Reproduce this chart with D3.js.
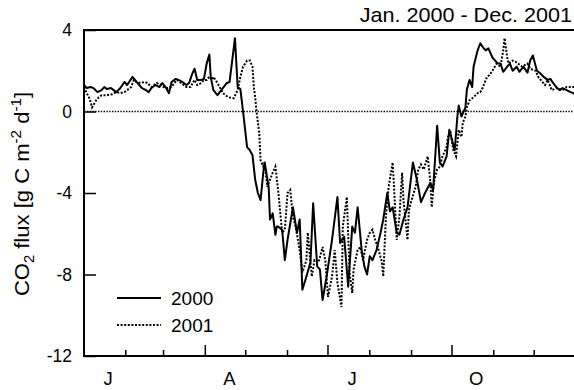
<!DOCTYPE html>
<html>
<head>
<meta charset="utf-8">
<script src="https://cdn.jsdelivr.net/npm/d3@7/dist/d3.min.js"></script>
<style>
  html, body { margin: 0; padding: 0; background: #fff; }
  svg { display: block; font-family: "Liberation Sans", Arial, Helvetica, sans-serif; }
</style>
</head>
<body>
<svg id="chart" width="574" height="390"></svg>
<script>
// Daily net CO2 flux, day of year and value (g C m-2 d-1)
const days2000 = [1,3,6,8,11,14,16,18,21,23,25,28,31,33,36,37,40,42,44,47,49,51,54,57,59,62,64,66,69,71,74,77,79,81,83,85,88,90,92,94,95,97,100,104,107,109,113,115,117,119,122,124,126,128,130,132,134,135,138,139,141,143,144,145,148,150,152,156,159,161,163,166,169,171,174,176,178,181,185,189,191,194,197,200,202,204,207,209,211,213,215,218,221,223,226,228,230,233,235,238,241,245,248,251,254,258,260,263,265,267,270,272,274,276,278,279,281,284,285,287,289,290,293,295,297,299,301,304,306,308,310,312,315,317,319,322,324,327,330,332,334,337,339,342,345,347,349,352,354,356,359,362,364,365];
const flux2000 = [1.3,1.15,1.2,1.15,0.95,1.05,1.2,1.1,1.15,1.05,0.95,1.15,1.45,1.3,1.6,1.7,1.45,1.3,1.15,1.05,0.95,1.15,1.3,1.2,1.4,1.15,0.9,1.45,1.6,1.55,1.45,1.3,1.4,1.8,2.1,1.55,1.55,1.6,2.35,2.8,1.7,1.05,0.8,1.15,1.4,1.45,3.6,1.2,1.1,0,-1.75,-1.9,-2.15,-3.35,-4.0,-4.35,-3.0,-2.5,-3.7,-5.3,-5.0,-6.05,-5.65,-5.65,-5.8,-7.3,-6.3,-4.7,-5.95,-5.3,-8.75,-8.1,-7.4,-4.5,-7.6,-7.75,-9.25,-8.1,-6.3,-4.2,-6.45,-6.15,-8.6,-5.65,-5.95,-4.7,-6.8,-7.6,-8.0,-7.1,-7.3,-6.8,-5.95,-5.3,-4.0,-4.9,-4.7,-5.95,-6.05,-5.3,-4.7,-2.5,-3.35,-4.45,-4.0,-3.5,-3.85,-0.7,-2.5,-2.7,-2.2,-0.9,-1.4,-1.9,-0.25,0.3,-0.25,0.2,1.05,1.55,1.2,2.2,3.0,3.35,3.15,3.0,3.1,2.65,2.5,2.35,2.35,1.95,2.2,2.35,2.0,2.2,1.95,2.2,1.9,2.5,2.75,2.0,1.9,1.7,1.55,1.6,1.4,1.15,1.05,1.15,1.05,0.95,0.9,0.85];

const days2001 = [1,3,5,7,10,12,14,18,22,25,28,31,33,36,38,40,43,46,48,51,53,55,58,60,63,66,68,70,73,75,77,80,83,85,88,90,92,94,96,97,100,104,108,112,115,117,119,122,124,126,127,128,129,131,132,134,135,137,139,141,143,145,148,150,152,154,156,158,161,163,166,167,170,172,175,178,180,182,185,187,189,192,193,196,198,200,201,204,206,208,211,213,215,217,219,222,223,225,227,230,231,233,235,237,238,241,242,244,247,249,251,253,256,258,259,260,261,263,265,267,270,271,273,275,277,279,281,282,284,285,287,290,293,295,297,300,302,304,307,310,312,313,315,316,319,321,323,326,330,332,336,338,341,343,345,348,352,356,359,363,365];
const flux2001 = [1.2,0.9,0.65,0.2,0.55,0.7,0.8,0.8,0.85,0.95,0.9,0.95,1.05,1.2,1.55,1.45,1.4,1.45,1.4,1.2,1.3,1.4,1.3,1.2,1.15,1.2,1.4,1.55,1.4,1.3,1.2,1.2,1.55,1.3,1.4,1.55,1.55,1.7,1.55,1.7,1.4,0.9,0.7,0.65,1.05,1.7,2.2,2.5,2.5,2.2,1.2,0.7,0,-1.05,-2.4,-2.7,-2.5,-3.7,-3.35,-3.0,-2.7,-3.85,-5.95,-5.8,-4.0,-3.85,-5.15,-5.65,-6.8,-7.9,-7.3,-5.95,-8.1,-7.3,-7.4,-6.65,-7.3,-9.1,-8.1,-6.8,-8.4,-9.6,-5.65,-4.2,-7.9,-8.9,-7.75,-6.8,-6.65,-7.3,-6.3,-5.95,-5.8,-6.3,-6.65,-7.4,-8.1,-5.15,-3.7,-2.5,-3.7,-6.3,-5.15,-3.0,-4.35,-6.3,-4.85,-4.35,-3.7,-2.85,-2.6,-2.85,-2.2,-3.5,-4.7,-3.85,-3.35,-2.85,-2.7,-2.2,-1.75,-1.25,-1.05,-1.9,-2.2,-0.9,-1.25,-0.55,-0.25,0.2,0.55,0.7,0.9,0.95,1.2,1.7,1.8,2.0,2.35,2.2,3.0,3.6,2.65,2.35,2.5,2.45,2.35,2.2,2.35,2.1,2.0,1.7,1.45,1.3,1.55,1.05,1.15,1.05,1.2,1.2,1.2];

const yTicks = [4, 0, -4, -8, -12];
const monthStarts = [1,32,60,91,121,152,182,213,244,274,305,335];
const quarterLabels = ["J", "A", "J", "O"];
const seasonLabel = "Jan. 2000 - Dec. 2001";

const svg = d3.select("#chart");
const plotLeft = 84, plotRight = 576, plotTop = 30, plotBottom = 356;

const x = d3.scaleLinear().domain([1, 366]).range([plotLeft, plotRight]);
const y = d3.scaleLinear().domain([-12, 4]).range([plotBottom, plotTop]);

// zero reference line
svg.append("line")
  .attr("x1", plotLeft).attr("x2", plotRight)
  .attr("y1", y(0)).attr("y2", y(0))
  .attr("stroke", "#000").attr("stroke-width", 1.5)
  .attr("stroke-dasharray", "1.4,1.4");

const line = d3.line().x(d => x(d[0])).y(d => y(d[1]));

const s2000 = days2000.map((d, i) => [d, flux2000[i]]);
const s2001 = days2001.map((d, i) => [d, flux2001[i]]);

svg.append("path").datum(s2001)
  .attr("d", line).attr("fill", "none")
  .attr("stroke", "#000").attr("stroke-width", 2)
  .attr("stroke-dasharray", "2,1.6");

svg.append("path").datum(s2000)
  .attr("d", line).attr("fill", "none")
  .attr("stroke", "#000").attr("stroke-width", 2)
  .attr("stroke-linejoin", "round");

// frame: left, bottom, top
const frame = svg.append("g").attr("stroke", "#000").attr("stroke-width", 2).attr("fill", "none");
frame.append("line").attr("x1", plotLeft).attr("x2", plotLeft).attr("y1", plotTop - 1).attr("y2", plotBottom + 1);
frame.append("line").attr("x1", plotLeft - 1).attr("x2", plotRight).attr("y1", plotBottom).attr("y2", plotBottom);
frame.append("line").attr("x1", plotLeft - 1).attr("x2", plotRight).attr("y1", plotTop).attr("y2", plotTop);

// y axis ticks (inward) and labels
const yAxis = d3.axisLeft(y).tickValues(yTicks).tickSize(-12).tickPadding(12)
  .tickFormat(d => String(d));
const gy = svg.append("g").attr("transform", `translate(${plotLeft},0)`).call(yAxis);
gy.select(".domain").remove();
gy.selectAll(".tick line").attr("stroke-width", 1.5);
gy.selectAll(".tick text")
  .attr("font-size", 17.5).attr("fill", "#000")
  .attr("font-family", "'Liberation Sans', Arial, sans-serif");

// x axis: monthly ticks, longer at quarter starts
const gx = svg.append("g").attr("transform", `translate(0,${plotBottom})`);
gx.selectAll("line.mt").data(monthStarts).join("line")
  .attr("class", "mt")
  .attr("x1", d => x(d)).attr("x2", d => x(d))
  .attr("y1", 0).attr("y2", (d, i) => i % 3 === 0 ? -11 : -6)
  .attr("stroke", "#000").attr("stroke-width", 1.5);

gx.selectAll("text").data(quarterLabels).join("text")
  .attr("x", (d, i) => (x(monthStarts[i * 3]) + x(monthStarts[i * 3] + 30)) / 2 + 4)
  .attr("y", 29)
  .attr("text-anchor", "middle")
  .attr("font-size", 18.5)
  .text(d => d);

// title, slightly widened lettering
svg.append("g")
  .attr("transform", "translate(572,22) scale(1.08,1)")
  .append("text")
  .attr("text-anchor", "end")
  .attr("font-size", 20)
  .text(seasonLabel);

// y axis title
const yt = svg.append("text")
  .attr("transform", `translate(29,194) rotate(-90) scale(1.05,1)`)
  .attr("text-anchor", "middle")
  .attr("font-size", 21);
yt.append("tspan").text("CO");
yt.append("tspan").attr("font-size", 14).attr("dy", 5).text("2");
yt.append("tspan").attr("dy", -5).text(" flux [g C m");
yt.append("tspan").attr("font-size", 14.5).attr("dy", -8).text("-2");
yt.append("tspan").attr("dy", 8).text(" d");
yt.append("tspan").attr("font-size", 14.5).attr("dy", -8).text("-1");
yt.append("tspan").attr("dy", 8).text("]");

// legend
const legend = svg.append("g");
const legendItems = [
  { label: "2000", dash: null, yy: 298 },
  { label: "2001", dash: "2,1.6", yy: 325 }
];
legendItems.forEach(it => {
  legend.append("line")
    .attr("x1", 117).attr("x2", 161)
    .attr("y1", it.yy).attr("y2", it.yy)
    .attr("stroke", "#000").attr("stroke-width", 2)
    .attr("stroke-dasharray", it.dash);
  legend.append("text")
    .attr("x", 171).attr("y", it.yy + 7)
    .attr("font-size", 19)
    .text(it.label);
});
</script>
</body>
</html>
